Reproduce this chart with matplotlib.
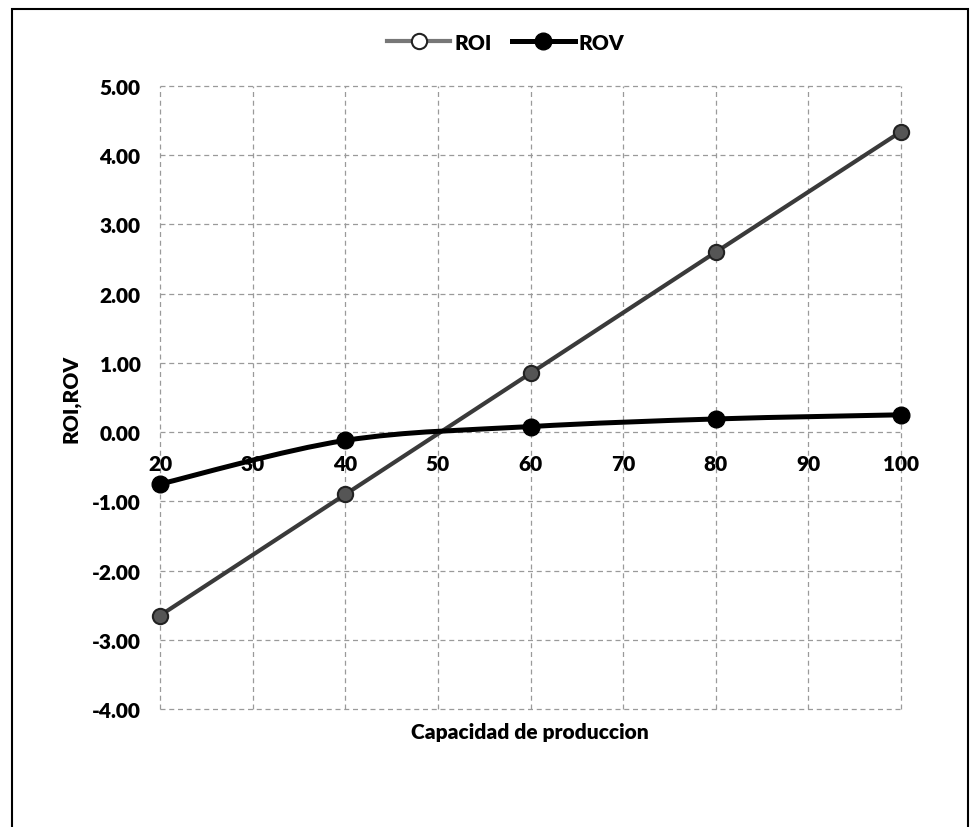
import matplotlib
matplotlib.use("Agg")
import matplotlib.pyplot as plt
import numpy as np
from matplotlib.path import Path
from matplotlib.patches import PathPatch, Rectangle
from matplotlib.lines import Line2D

capacidad = [20, 40, 60, 80, 100]
roi = [-2.65, -0.90, 0.85, 2.60, 4.34]
rov = [-0.75, -0.12, 0.08, 0.19, 0.25]
x_ticks = [20, 30, 40, 50, 60, 70, 80, 90, 100]
y_ticks = [5, 4, 3, 2, 1, 0, -1, -2, -3, -4]

plt.rcParams['font.family'] = ['Lato', 'DejaVu Sans']
W = 'heavy'

fig = plt.figure(figsize=(9.71, 8.28), dpi=100)
ax = fig.add_axes([160/971, 1-710/828, (901-160)/971, (710-87)/828])
ax.set_xlim(20, 100)
ax.set_ylim(-4, 5)
ax.spines['bottom'].set_position(('data', 0))

# grid
for xv in x_ticks:
    ax.axvline(xv, color='#9a9a9a', lw=0.9, ls=(0, (4, 3)), zorder=1, clip_on=False)
for yv in y_ticks:
    ax.axhline(yv, color='#9a9a9a', lw=0.9, ls=(0, (4, 3)), zorder=1, clip_on=False)
for s in ax.spines.values():
    s.set_visible(False)

# ROI straight line
ax.plot(capacidad, roi, color='#3a3a3a', lw=3.0, marker='o', ms=11,
        mfc='#555555', mec='#222222', mew=1.5, zorder=4, clip_on=False)

# ROV smoothed line (Excel-like smoothing via cubic Bezier)
sx, sy = 9.27, 69.2
P = np.column_stack([np.array(capacidad) * sx, np.array(rov) * sy])
verts = [P[0]]
codes = [Path.MOVETO]
n = len(P)
for i in range(n - 1):
    p0 = P[i - 1] if i > 0 else P[i]
    p1 = P[i]
    p2 = P[i + 1]
    p3 = P[i + 2] if i + 2 < n else P[i + 1]
    c1 = p1 + (p2 - p0) / 6
    c2 = p2 - (p3 - p1) / 6
    verts += [c1, c2, p2]
    codes += [Path.CURVE4] * 3
verts = np.array(verts) / np.array([sx, sy])
ax.add_patch(PathPatch(Path(verts, codes), fc='none', ec='black', lw=3.6,
                       zorder=5, clip_on=False))
ax.plot(capacidad, rov, ls='none', marker='o', ms=12, mfc='black', mec='black',
        zorder=6, clip_on=False)

# ticks
ax.set_yticks(y_ticks)
ax.set_yticklabels([f"{v:.2f}" for v in y_ticks], fontsize=15, fontweight=W)
ax.tick_params(axis='y', length=0, pad=14)
ax.set_xticks(x_ticks)
ax.set_xticklabels([str(v) for v in x_ticks], fontsize=15, fontweight=W)
ax.tick_params(axis='x', length=0, pad=16)

ax.set_ylabel('ROI,ROV', fontsize=15, fontweight=W, labelpad=8)
fig.text(530/971, 1-733/828, 'Capacidad de produccion', fontsize=15, fontweight=W,
         ha='center', va='center')

# legend
h_roi = Line2D([], [], color='#777777', lw=3, marker='o', ms=11, mfc='white',
               mec='#222222', mew=1.5)
h_rov = Line2D([], [], color='black', lw=3.6, marker='o', ms=12, mfc='black', mec='black')
fig.legend([h_roi, h_rov], ['ROI', 'ROV'], loc='center', bbox_to_anchor=(506/971, 1-43/828),
           ncol=2, frameon=False, prop={'size': 15, 'weight': W},
           handlelength=3.0, handletextpad=0.2, columnspacing=1.0)

# outer frame
fig.patches.append(Rectangle((12/971, -0.01), (968-12)/971, 1-10/828+0.01,
                             transform=fig.transFigure, fill=False, ec='black', lw=1.5))

fig.savefig('out.png', dpi=100)
